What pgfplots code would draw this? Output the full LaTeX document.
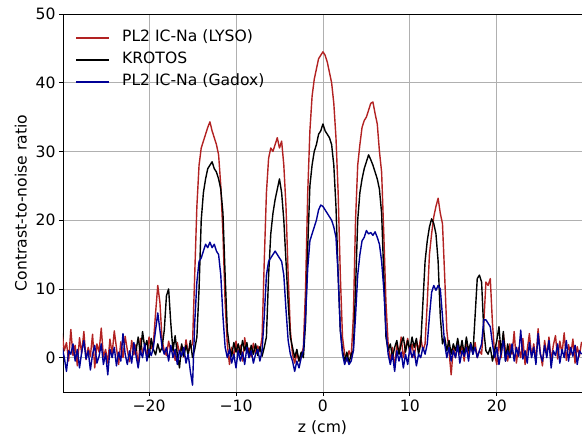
\documentclass[border=0pt]{standalone}
\usepackage{fontspec}
\setmainfont{DejaVu Sans}
\usepackage{pgfplots}
\pgfplotsset{compat=1.18}
\definecolor{lyso}{RGB}{178,34,34}
\definecolor{gadox}{RGB}{0,0,150}
\definecolor{gridc}{RGB}{176,176,176}
\begin{document}
\begin{tikzpicture}
\path[use as bounding box] (-63pt,-44pt) rectangle (519pt,392pt);
\begin{axis}[
  scale only axis, width=519pt, height=378pt,
  xmin=-29.9, xmax=29.8, ymin=-5, ymax=50,
  xtick={-20,-10,0,10,20},
  xticklabels={−20,−10,0,10,20},
  ytick={0,10,20,30,40,50},
  yticklabels={0,10,20,30,40,50},
  grid=major,
  major grid style={gridc, line width=0.8pt},
  axis line style={line width=0.8pt},
  tick style={black, line width=0.8pt},
  tick align=outside, major tick length=4pt,
  tick pos=left,
  ticklabel style={font=\fontsize{15.6}{18}\selectfont},
  xlabel={z (cm)}, ylabel={Contrast-to-noise ratio},
  label style={font=\fontsize{15.6}{18}\selectfont},
  xlabel style={yshift=-2pt},
  ylabel style={yshift=2pt},
  legend style={draw=none, fill=none, at={(0.018,0.964)}, anchor=north west,
    font=\fontsize{15.6}{18}\selectfont, row sep=6pt,
    nodes={text height=12pt, text depth=4pt, inner ysep=0pt}},
  legend cell align=left,
  legend image code/.code={\draw[#1, line width=1.6pt] (0pt,0pt) -- (33pt,0pt) (43pt,0pt);},
  every axis plot/.append style={line width=1.4pt, line join=round},
]
\addplot[lyso] coordinates {
(-30,3.5)(-29.75,1.0)(-29.5,2.2)(-29.25,-0.5)(-29,4.1)(-28.75,0.3)(-28.5,1.8)(-28.25,-1.2)(-28,2.9)(-27.75,0.6)
(-27.5,3.8)(-27.25,-0.3)(-27,1.5)(-26.75,0.2)(-26.5,3.4)(-26.25,-1.5)(-26,2.0)(-25.75,0.8)(-25.5,4.3)(-25.25,0.1)
(-25,1.2)(-24.75,-0.8)(-24.5,2.7)(-24.25,0.5)(-24,3.9)(-23.75,1.4)(-23.5,-1.0)(-23.25,2.3)(-23,0.0)(-22.75,3.1)
(-22.5,1.1)(-22.25,-0.6)(-22,2.5)(-21.75,0.4)(-21.5,1.9)(-21.25,-1.3)(-21,2.8)(-20.75,0.7)(-20.5,1.6)(-20.25,0.2)
(-20,3.0)(-19.75,1.3)(-19.5,2.1)(-19.25,6.5)(-19,10.5)(-18.75,8.0)(-18.5,2.5)(-18.25,1.0)(-18,0.3)(-17.75,2.4)
(-17.5,0.9)(-17.25,1.7)(-17,-0.4)(-16.75,2.2)(-16.5,0.6)(-16.25,1.8)(-16,0.1)(-15.75,2.6)(-15.5,0.8)(-15.25,1.5)
(-15,2.0)(-14.75,12.0)(-14.5,22.0)(-14.25,28.0)(-14,30.5)(-13.75,31.5)(-13.5,32.5)(-13.25,33.5)(-13,34.3)(-12.75,33.0)
(-12.5,32.0)(-12.25,31.0)(-12,29.5)(-11.75,25.0)(-11.5,18.0)(-11.25,8.0)(-11,2.0)(-10.75,-1.0)(-10.5,1.5)(-10.25,0.2)
(-10,2.4)(-9.75,0.5)(-9.5,1.8)(-9.25,-0.5)(-9,2.9)(-8.75,0.8)(-8.5,1.4)(-8.25,0.1)(-8,2.1)(-7.75,0.6)
(-7.5,1.7)(-7.25,0.9)(-7,3.0)(-6.75,14.0)(-6.5,24.0)(-6.25,29.0)(-6,30.5)(-5.75,30.0)(-5.5,31.0)(-5.25,32.0)
(-5,30.5)(-4.75,31.5)(-4.5,28.0)(-4.25,22.0)(-4,12.0)(-3.75,4.0)(-3.5,0.5)(-3.25,-0.8)(-3,0.6)(-2.75,-0.5)
(-2.5,0.3)(-2.25,1.5)(-2,10.0)(-1.75,24.0)(-1.5,33.0)(-1.25,38.0)(-1,40.5)(-0.75,42.0)(-0.5,43.5)(-0.25,44.0)
(0,44.5)(0.25,44.0)(0.5,43.0)(0.75,41.5)(1,40.0)(1.25,37.0)(1.5,32.0)(1.75,24.0)(2,12.0)(2.25,3.0)
(2.5,0.5)(2.75,-0.5)(3,1.0)(3.25,0.0)(3.5,6.0)(3.75,20.0)(4,28.0)(4.25,31.0)(4.5,33.5)(4.75,34.5)
(5,35.0)(5.25,36.0)(5.5,37.0)(5.75,37.2)(6,35.5)(6.25,34.0)(6.5,30.0)(6.75,27.0)(7,18.0)(7.25,8.0)
(7.5,2.0)(7.75,-0.5)(8,1.5)(8.25,-1.5)(8.5,2.0)(8.75,0.5)(9,3.0)(9.25,0.0)(9.5,1.5)(9.75,2.8)
(10,0.5)(10.25,2.0)(10.5,0.0)(10.75,2.5)(11,1.0)(11.25,3.0)(11.5,1.0)(11.75,2.0)(12,8.0)(12.25,15.0)
(12.5,18.0)(12.75,20.5)(13,22.0)(13.25,23.2)(13.5,21.0)(13.75,19.5)(14,12.0)(14.25,4.0)(14.5,1.0)(14.75,-2.5)
(15,1.5)(15.25,0.0)(15.5,2.0)(15.75,0.5)(16,1.8)(16.25,-0.5)(16.5,2.5)(16.75,0.3)(17,1.5)(17.25,0.8)
(17.5,2.2)(17.75,0.0)(18,1.0)(18.25,0.5)(18.5,5.0)(18.75,11.0)(19,10.5)(19.25,11.5)(19.5,5.0)(19.75,0.5)
(20,-1.0)(20.25,2.5)(20.5,0.0)(20.75,3.5)(21,1.0)(21.25,-0.5)(21.5,2.0)(21.75,0.5)(22,3.8)(22.25,-0.8)
(22.5,1.5)(22.75,0.0)(23,2.8)(23.25,-1.0)(23.5,1.2)(23.75,3.5)(24,0.2)(24.25,2.0)(24.5,-0.5)(24.75,4.2)
(25,0.8)(25.25,-1.2)(25.5,2.5)(25.75,0.3)(26,3.0)(26.25,-0.6)(26.5,1.8)(26.75,3.2)(27,-0.2)(27.25,2.4)
(27.5,0.6)(27.75,3.6)(28,-0.4)(28.25,1.9)(28.5,0.4)(28.75,2.7)(29,-0.8)(29.25,1.6)(29.5,0.2)(29.75,2.3)
};
\addlegendentry{PL2 IC-Na (LYSO)}
\addplot[black] coordinates {
(-21.5,1.0)(-21.25,3.0)(-21,0.5)(-20.75,3.8)(-20.5,1.5)(-20.25,2.5)(-20,0.0)(-19.75,2.8)(-19.5,1.2)(-19.25,0.4)
(-19,2.0)(-18.75,0.8)(-18.5,1.5)(-18.25,4.0)(-18,9.0)(-17.75,10.0)(-17.5,5.0)(-17.25,1.0)(-17,3.2)(-16.75,0.5)
(-16.5,-1.5)(-16.25,2.0)(-16,0.2)(-15.75,1.8)(-15.5,0.4)(-15.25,2.5)(-15,0.0)(-14.75,1.2)(-14.5,3.0)(-14.25,10.0)
(-14,20.0)(-13.75,24.0)(-13.5,26.0)(-13.25,27.5)(-13,28.0)(-12.75,28.5)(-12.5,27.5)(-12.25,27.0)(-12,26.0)(-11.75,24.5)
(-11.5,21.0)(-11.25,12.0)(-11,4.0)(-10.75,1.5)(-10.5,0.2)(-10.25,2.2)(-10,0.8)(-9.75,2.0)(-9.5,0.4)(-9.25,2.5)
(-9,1.0)(-8.75,2.2)(-8.5,0.0)(-8.25,1.8)(-8,0.5)(-7.75,2.0)(-7.5,0.3)(-7.25,1.6)(-7,0.2)(-6.75,1.5)
(-6.5,3.0)(-6.25,12.0)(-6,18.0)(-5.75,21.0)(-5.5,23.0)(-5.25,24.5)(-5,26.0)(-4.75,24.0)(-4.5,20.0)(-4.25,14.0)
(-4,8.0)(-3.75,3.0)(-3.5,1.5)(-3.25,0.0)(-3,1.2)(-2.75,-0.5)(-2.5,0.8)(-2.25,0.0)(-2,5.0)(-1.75,16.0)
(-1.5,25.0)(-1.25,28.0)(-1,30.0)(-0.75,31.0)(-0.5,32.5)(-0.25,33.0)(0,34.0)(0.25,33.0)(0.5,32.5)(0.75,32.0)
(1,31.0)(1.25,28.0)(1.5,22.0)(1.75,12.0)(2,4.0)(2.25,1.0)(2.5,-0.5)(2.75,0.8)(3,-0.8)(3.25,0.5)
(3.5,1.0)(3.75,10.0)(4,20.0)(4.25,24.0)(4.5,26.0)(4.75,27.5)(5,28.5)(5.25,29.5)(5.5,28.8)(5.75,28.0)
(6,27.0)(6.25,26.0)(6.5,24.5)(6.75,21.0)(7,12.0)(7.25,3.0)(7.5,1.0)(7.75,2.0)(8,0.0)(8.25,1.5)
(8.5,2.5)(8.75,0.5)(9,2.0)(9.25,3.0)(9.5,0.8)(9.75,2.5)(10,1.0)(10.25,3.0)(10.5,1.5)(10.75,2.8)
(11,0.5)(11.25,2.0)(11.5,8.0)(11.75,14.0)(12,17.0)(12.25,19.0)(12.5,20.2)(12.75,19.5)(13,18.0)(13.25,14.0)
(13.5,6.0)(13.75,2.0)(14,3.0)(14.25,1.0)(14.5,2.5)(14.75,0.5)(15,2.0)(15.25,1.0)(15.5,2.8)(15.75,0.8)
(16,2.5)(16.25,0.5)(16.5,3.0)(16.75,1.0)(17,2.2)(17.25,0.5)(17.5,6.0)(17.75,11.5)(18,12.0)(18.25,11.0)
(18.5,4.0)(18.75,1.0)(19,0.5)(19.25,1.5)(19.5,-0.5)(19.75,1.0)(20,2.5)(20.25,4.5)(20.5,0.5)(20.75,3.8)
(21,-0.5)(21.25,2.0)(21.5,0.0)(21.75,1.5)
};
\addlegendentry{KROTOS}
\addplot[gadox] coordinates {
(-30,1.5)(-29.75,0.0)(-29.5,-2.0)(-29.25,1.0)(-29,0.5)(-28.75,2.0)(-28.5,-0.5)(-28.25,1.2)(-28,-1.5)(-27.75,0.8)
(-27.5,2.5)(-27.25,-0.2)(-27,1.0)(-26.75,-1.8)(-26.5,0.5)(-26.25,1.8)(-26,-0.8)(-25.75,0.2)(-25.5,2.0)(-25.25,-1.0)
(-25,0.6)(-24.75,-2.5)(-24.5,1.2)(-24.25,0.0)(-24,1.5)(-23.75,-1.2)(-23.5,0.8)(-23.25,-0.5)(-23,3.5)(-22.75,0.5)
(-22.5,-1.0)(-22.25,1.0)(-22,-0.8)(-21.75,2.2)(-21.5,0.3)(-21.25,-1.5)(-21,1.0)(-20.75,0.0)(-20.5,2.0)(-20.25,-0.5)
(-20,1.2)(-19.75,0.3)(-19.5,1.5)(-19.25,4.0)(-19,6.5)(-18.75,4.0)(-18.5,1.5)(-18.25,0.5)(-18,1.5)(-17.75,-0.5)
(-17.5,1.8)(-17.25,0.0)(-17,1.2)(-16.75,-1.0)(-16.5,1.0)(-16.25,0.2)(-16,1.5)(-15.75,-0.8)(-15.5,0.5)(-15.25,-2.0)
(-15,-4.0)(-14.75,5.0)(-14.5,11.0)(-14.25,14.0)(-14,14.5)(-13.75,15.5)(-13.5,16.5)(-13.25,16.0)(-13,16.8)(-12.75,16.0)
(-12.5,16.5)(-12.25,15.5)(-12,15.0)(-11.75,12.0)(-11.5,6.0)(-11.25,1.5)(-11,0.0)(-10.75,1.2)(-10.5,-0.8)(-10.25,0.5)
(-10,-1.5)(-9.75,1.0)(-9.5,-0.5)(-9.25,0.8)(-9,-1.0)(-8.75,1.5)(-8.5,0.0)(-8.25,1.0)(-8,-0.8)(-7.75,0.5)
(-7.5,1.2)(-7.25,-0.5)(-7,1.0)(-6.75,6.0)(-6.5,12.0)(-6.25,14.0)(-6,14.5)(-5.75,15.0)(-5.5,15.5)(-5.25,15.0)
(-5,14.5)(-4.75,14.0)(-4.5,12.0)(-4.25,7.0)(-4,2.5)(-3.75,0.5)(-3.5,-0.5)(-3.25,-2.0)(-3,-0.5)(-2.75,-1.5)
(-2.5,0.0)(-2.25,1.0)(-2,6.0)(-1.75,13.0)(-1.5,17.0)(-1.25,18.0)(-1,19.0)(-0.75,20.0)(-0.5,21.5)(-0.25,22.2)
(0,22.0)(0.25,21.5)(0.5,21.0)(0.75,20.5)(1,20.0)(1.25,19.0)(1.5,17.5)(1.75,12.0)(2,4.0)(2.25,0.5)
(2.5,-1.0)(2.75,0.0)(3,-1.0)(3.25,-0.5)(3.5,1.0)(3.75,6.0)(4,12.0)(4.25,15.0)(4.5,17.0)(4.75,17.5)
(5,18.5)(5.25,18.0)(5.5,18.2)(5.75,17.8)(6,18.3)(6.25,17.5)(6.5,16.5)(6.75,14.0)(7,10.0)(7.25,4.0)
(7.5,0.5)(7.75,-1.0)(8,0.5)(8.25,-2.0)(8.5,1.0)(8.75,-0.5)(9,0.8)(9.25,-1.5)(9.5,0.5)(9.75,-1.0)
(10,1.5)(10.25,0.0)(10.5,1.0)(10.75,-1.2)(11,0.5)(11.25,0.0)(11.5,1.5)(11.75,0.5)(12,2.0)(12.25,6.0)
(12.5,9.5)(12.75,10.5)(13,9.8)(13.25,10.5)(13.5,10.0)(13.75,6.0)(14,2.0)(14.25,0.0)(14.5,1.5)(14.75,-0.5)
(15,1.0)(15.25,0.0)(15.5,1.8)(15.75,-0.8)(16,1.0)(16.25,0.2)(16.5,1.5)(16.75,-0.5)(17,2.0)(17.25,0.5)
(17.5,1.5)(17.75,0.0)(18,1.0)(18.25,2.0)(18.5,5.5)(18.75,5.5)(19,5.0)(19.25,4.5)(19.5,2.0)(19.75,0.0)
(20,1.5)(20.25,-1.0)(20.5,0.8)(20.75,2.5)(21,-0.5)(21.25,1.0)(21.5,0.0)(21.75,2.0)(22,-0.5)(22.25,1.5)
(22.5,0.2)(22.75,4.0)(23,-0.2)(23.25,1.0)(23.5,-0.8)(23.75,2.2)(24,0.0)(24.25,1.5)(24.5,-1.0)(24.75,3.5)
(25,0.5)(25.25,-0.5)(25.5,1.8)(25.75,0.0)(26,2.5)(26.25,-1.5)(26.5,1.0)(26.75,0.3)(27,2.0)(27.25,-0.8)
(27.5,1.2)(27.75,0.0)(28,2.5)(28.25,-0.5)(28.5,1.5)(28.75,0.2)(29,1.8)(29.25,-1.0)(29.5,1.0)(29.75,0.5)
};
\addlegendentry{PL2 IC-Na (Gadox)}
\end{axis}
\end{tikzpicture}
\end{document}
